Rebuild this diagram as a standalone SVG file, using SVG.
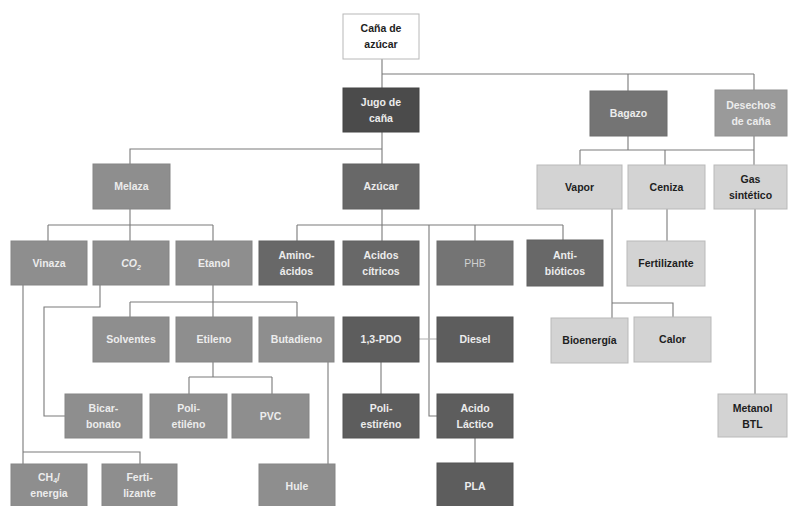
<svg xmlns="http://www.w3.org/2000/svg" width="789" height="506" viewBox="0 0 789 506">
  <style>
    rect { stroke-width: 1; }
    text { font-family: "Liberation Sans", Arial, sans-serif; font-weight: bold; font-size: 10.5px; text-anchor: middle; }
    .wt { fill: #ececec; }
    .bk { fill: #1e1e1e; }
    .plain { font-weight: normal; fill: #d0d0d0; }
    .ital { font-style: italic; }
    .root { fill: #ffffff; stroke: #b8b8b8; }
    .d1 { fill: #4b4b4b; stroke: #444; }
    .d2 { fill: #5d5d5d; stroke: #555; }
    .d3 { fill: #686868; stroke: #606060; }
    .m1 { fill: #747474; stroke: #6c6c6c; }
    .m2 { fill: #8e8e8e; stroke: #858585; }
    .m3 { fill: #9a9a9a; stroke: #909090; }
    .lt { fill: #d3d3d3; stroke: #b9b9b9; }
    #connectors path { fill: none; stroke: #7a7a7a; stroke-width: 1.1; }
    #connectors path.faint { stroke: #b5b5b5; }
  </style>
  <rect width="789" height="506" fill="#ffffff"/>

  <g id="connectors">
    <path d="M382,59 V88 M382,74 H754 M628,74 V91 M754,74 V90"/>
    <path d="M382,132 V164 M382,149 H130 V164"/>
    <path d="M628,136 V150 M754,136 V165 M580,150 H754 M580,150 V165 M665,150 V165"/>
    <path d="M130,209 V225 M48,225 H213 M48,225 V241 M130,225 V241 M213,225 V241"/>
    <path d="M382,209 V241 M297,225 H563 M297,225 V241 M475,225 V241 M563,225 V240"/>
    <path d="M429,225 V416 H437"/>
    <path d="M612,209 V318 M612,303 H673 V317"/>
    <path d="M667,209 V241"/>
    <path d="M755,209 V394"/>
    <path d="M213,285 V317 M130,302 H297 M130,302 V317 M297,302 V317"/>
    <path d="M100,285 V307 H44 V416 H65"/>
    <path d="M23,285 V464 M23,452 H140 V464"/>
    <path d="M213,362 V377 M189,377 H272 M189,377 V394 M272,377 V394"/>
    <path d="M328,362 V464"/>
    <path d="M381,362 V394"/>
    <path class="faint" d="M419,339 H437"/>
    <path d="M475,438 V463"/>
  </g>

  <g id="cana-azucar"><rect class="root" x="343" y="14" width="76" height="45"/><text class="bk" x="381" y="32">Caña de</text><text class="bk" x="381" y="48">azúcar</text></g>
  <g id="jugo-cana"><rect class="d1" x="343" y="88" width="76" height="44"/><text class="wt" x="381" y="106">Jugo de</text><text class="wt" x="381" y="122">caña</text></g>
  <g id="bagazo"><rect class="m1" x="590" y="91" width="77" height="45"/><text class="wt" x="628.5" y="117">Bagazo</text></g>
  <g id="desechos"><rect class="m3" x="715" y="90" width="72" height="46"/><text class="wt" x="751" y="109">Desechos</text><text class="wt" x="751" y="125">de caña</text></g>

  <g id="melaza"><rect class="m2" x="93" y="164" width="77" height="45"/><text class="wt" x="131.5" y="190">Melaza</text></g>
  <g id="azucar"><rect class="d3" x="343" y="164" width="76" height="45"/><text class="wt" x="381" y="190">Azúcar</text></g>
  <g id="vapor"><rect class="lt" x="537" y="165" width="85" height="44"/><text class="bk" x="579.5" y="191">Vapor</text></g>
  <g id="ceniza"><rect class="lt" x="628" y="165" width="77" height="44"/><text class="bk" x="666.5" y="191">Ceniza</text></g>
  <g id="gas-sintetico"><rect class="lt" x="714" y="165" width="73" height="44"/><text class="bk" x="750.5" y="183">Gas</text><text class="bk" x="750.5" y="199">sintético</text></g>

  <g id="vinaza"><rect class="m2" x="11" y="241" width="76" height="44"/><text class="wt" x="49" y="267">Vinaza</text></g>
  <g id="co2"><rect class="m2" x="93" y="241" width="76" height="44"/><text class="wt ital" x="131" y="267">CO<tspan font-size="7" dy="3">2</tspan></text></g>
  <g id="etanol"><rect class="m2" x="176" y="241" width="76" height="44"/><text class="wt" x="214" y="267">Etanol</text></g>
  <g id="aminoacidos"><rect class="d3" x="259" y="241" width="75" height="44"/><text class="wt" x="296.5" y="259">Amino-</text><text class="wt" x="296.5" y="275">ácidos</text></g>
  <g id="acidos-citricos"><rect class="d3" x="343" y="241" width="76" height="44"/><text class="wt" x="381" y="259">Acidos</text><text class="wt" x="381" y="275">cítricos</text></g>
  <g id="phb"><rect class="m1" x="437" y="241" width="76" height="44"/><text class="plain" x="475" y="267">PHB</text></g>
  <g id="antibioticos"><rect class="d3" x="527" y="240" width="76" height="46"/><text class="wt" x="565" y="259">Anti-</text><text class="wt" x="565" y="275">bióticos</text></g>
  <g id="fertilizante-ceniza"><rect class="lt" x="627" y="241" width="78" height="45"/><text class="bk" x="666" y="267">Fertilizante</text></g>

  <g id="solventes"><rect class="m2" x="93" y="317" width="76" height="45"/><text class="wt" x="131" y="343">Solventes</text></g>
  <g id="etileno"><rect class="m2" x="176" y="317" width="76" height="45"/><text class="wt" x="214" y="343">Etileno</text></g>
  <g id="butadieno"><rect class="m2" x="259" y="317" width="75" height="45"/><text class="wt" x="296.5" y="343">Butadieno</text></g>
  <g id="pdo"><rect class="d2" x="343" y="317" width="76" height="45"/><text class="wt" x="381" y="343">1,3-PDO</text></g>
  <g id="diesel"><rect class="d2" x="437" y="317" width="76" height="45"/><text class="wt" x="475" y="343">Diesel</text></g>
  <g id="bioenergia"><rect class="lt" x="551" y="318" width="77" height="45"/><text class="bk" x="589.5" y="344">Bioenergía</text></g>
  <g id="calor"><rect class="lt" x="634" y="317" width="77" height="45"/><text class="bk" x="672.5" y="343">Calor</text></g>

  <g id="bicarbonato"><rect class="m2" x="65" y="394" width="77" height="44"/><text class="wt" x="103.5" y="412">Bicar-</text><text class="wt" x="103.5" y="428">bonato</text></g>
  <g id="polietileno"><rect class="m2" x="150" y="394" width="77" height="44"/><text class="wt" x="188.5" y="412">Poli-</text><text class="wt" x="188.5" y="428">etiléno</text></g>
  <g id="pvc"><rect class="m2" x="232" y="394" width="77" height="44"/><text class="wt" x="270.5" y="420">PVC</text></g>
  <g id="poliestireno"><rect class="d2" x="343" y="394" width="76" height="44"/><text class="wt" x="381" y="412">Poli-</text><text class="wt" x="381" y="428">estiréno</text></g>
  <g id="acido-lactico"><rect class="d2" x="437" y="394" width="76" height="44"/><text class="wt" x="475" y="412">Acido</text><text class="wt" x="475" y="428">Láctico</text></g>
  <g id="metanol-btl"><rect class="lt" x="718" y="394" width="69" height="43"/><text class="bk" x="752.5" y="412">Metanol</text><text class="bk" x="752.5" y="428">BTL</text></g>

  <g id="ch4-energia"><rect class="m2" x="11" y="464" width="76" height="46"/><text class="wt" x="49" y="481">CH<tspan font-size="7" dy="2">4</tspan><tspan dy="-2">/</tspan></text><text class="wt" x="49" y="497">energia</text></g>
  <g id="fertilizante-vinaza"><rect class="m2" x="102" y="464" width="75" height="46"/><text class="wt" x="139.5" y="481">Ferti-</text><text class="wt" x="139.5" y="497">lizante</text></g>
  <g id="hule"><rect class="m2" x="259" y="464" width="76" height="46"/><text class="wt" x="297" y="490">Hule</text></g>
  <g id="pla"><rect class="d2" x="437" y="463" width="76" height="47"/><text class="wt" x="475" y="490">PLA</text></g>
</svg>
